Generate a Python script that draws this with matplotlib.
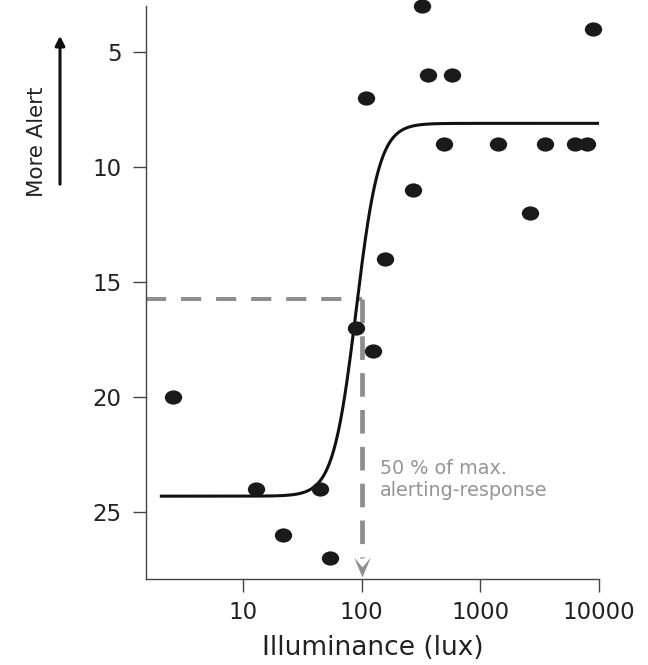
import numpy as np
import matplotlib
matplotlib.use("Agg")
import matplotlib.pyplot as plt
from matplotlib.path import Path
from matplotlib.transforms import Affine2D

plt.rcParams['font.family'] = ['DejaVu Sans']

# Observations: illuminance (lux) vs alertness score (lower = more alert)
lux = [2.6, 13, 22, 45, 54, 89, 124, 108, 158, 273, 326, 366, 580,
       497, 1410, 2620, 3520, 6300, 7900, 8950]
score = [20, 24, 26, 24, 27, 17, 18, 7, 14, 11, 3, 6, 6,
         9, 9, 12, 9, 9, 9, 4]

# Fitted logistic (log10 lux)
fit_bottom = 24.3
fit_top = 8.1
fit_log_mid = 1.955
fit_hill = 4.5
fit_range = (2.0, 10000)

half_lux = 100
half_score = 15.74

x_ticks = [10, 100, 1000, 10000]
x_ticklabels = ['10', '100', '1000', '10000']
y_ticks = [5, 10, 15, 20, 25]

fig = plt.figure(figsize=(6.48, 6.65), dpi=100)
ax = fig.add_axes([0.2253, 0.1293, 0.6991, 0.8617])

ax.set_xscale('log')
ax.set_xlim(1.53, 10000)
ax.set_ylim(27.9, 3.0)

# fitted curve
xf = np.logspace(np.log10(fit_range[0]), np.log10(fit_range[1]), 400)
yf = fit_bottom + (fit_top - fit_bottom) / (1 + 10 ** (fit_hill * (fit_log_mid - np.log10(xf))))
ax.plot(xf, yf, color='#111111', lw=2.2, zorder=3, solid_capstyle='butt')

# dashed guides
grey = '#8e8e8e'
ax.plot([1.53, half_lux], [half_score, half_score], color=grey, lw=2.9,
        dashes=(5, 3.7), zorder=2, clip_on=False)
ax.plot([half_lux, half_lux], [half_score, 27.0], color=grey, lw=3.4,
        dashes=(5, 2.8), zorder=2)
head = Path([(0, 0), (-0.5, 1.2), (0, 0.6), (0.5, 1.2), (0, 0)],
            [Path.MOVETO, Path.LINETO, Path.LINETO, Path.LINETO, Path.CLOSEPOLY])
ax.plot([half_lux], [27.8], marker=head, markersize=29, color=grey,
        markeredgewidth=0, linestyle='none', zorder=2, clip_on=False)

# data dots (slightly wide ellipses)
ell = Path.unit_circle().transformed(Affine2D().scale(1.22, 1.0))
ax.plot(lux, score, marker=ell, markersize=12.5, color='#1a1a1a',
        markeredgewidth=0, linestyle='none', zorder=4, clip_on=False)

ax.text(144, 23.34, '50 % of max.', color='#959595', fontsize=13.8, va='baseline')
ax.text(144, 24.30, 'alerting-response', color='#959595', fontsize=13.8, va='baseline')

for s in ['top', 'right']:
    ax.spines[s].set_visible(False)
for s in ['left', 'bottom']:
    ax.spines[s].set_color('#444444')
    ax.spines[s].set_linewidth(1.0)

ax.set_xticks(x_ticks)
ax.set_xticklabels(x_ticklabels)
ax.xaxis.set_minor_locator(matplotlib.ticker.NullLocator())
ax.set_yticks(y_ticks)
ax.tick_params(axis='both', direction='out', length=9.5, width=1.0,
               color='#444444', labelsize=16.5, labelcolor='#222222')
ax.tick_params(axis='x', pad=6)
ax.tick_params(axis='y', pad=8)

ax.set_xlabel('Illuminance (lux)', fontsize=19, color='#222222', labelpad=8)

fig.text(37 / 648, 1 - 142 / 665, 'More Alert', rotation=90, fontsize=15.4,
         color='#222222', ha='center', va='center')
fig.add_artist(matplotlib.patches.FancyArrowPatch(
    (60 / 648, 1 - 187 / 665), (60 / 648, 1 - 33 / 665),
    transform=fig.transFigure, arrowstyle='-|>', mutation_scale=14,
    color='#111111', lw=2.2))

fig.savefig('out.png', dpi=100)
